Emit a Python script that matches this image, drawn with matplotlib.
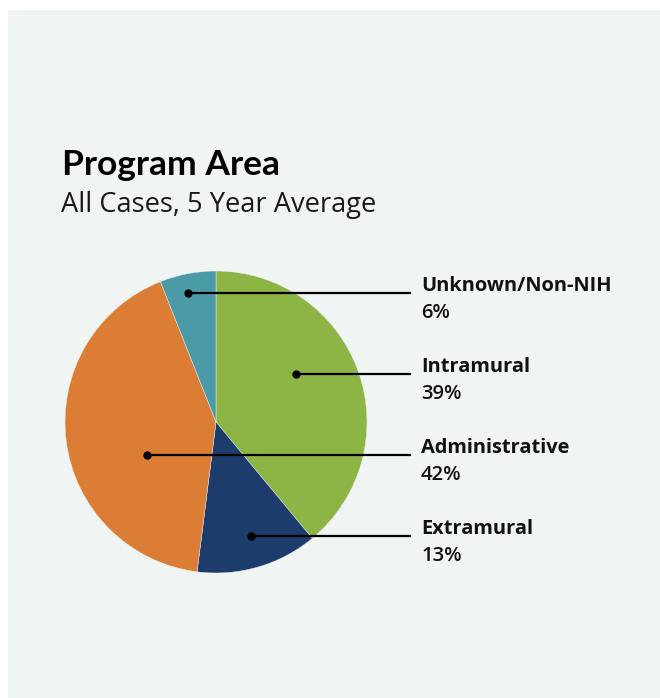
import matplotlib
matplotlib.use("Agg")
from matplotlib import pyplot as plt
from matplotlib.patches import Rectangle

# data
categories = ["Intramural", "Extramural", "Administrative", "Unknown/Non-NIH"]
shares = [39, 13, 42, 6]
colors = ["#8cb545", "#1c3c6c", "#db7d35", "#4b9aa8"]

# label order on the right (top to bottom) and where the pointer dots sit
label_order = ["Unknown/Non-NIH", "Intramural", "Administrative", "Extramural"]
label_y = [293, 374, 455, 536]
dot_x = [188, 296, 147, 251]

W, H = 660, 698
bg = "#f0f4f3"

fig = plt.figure(figsize=(W / 100, H / 100), dpi=100)
fig.patch.set_facecolor("white")
ax = fig.add_axes([0, 0, 1, 1])

# pie (y axis gets inverted below, so flip direction)
ax.pie(shares, colors=colors, startangle=-90, counterclock=True, center=(216, 422),
       radius=151, frame=True, wedgeprops=dict(edgecolor=bg, linewidth=0.3))
ax.set_xlim(0, W)
ax.set_ylim(H, 0)
ax.set_aspect("equal")
ax.axis("off")

# panel
ax.add_patch(Rectangle((8, 10), W - 8, H - 10, facecolor=bg, edgecolor="none", zorder=0))

ax.text(62, 175, "Program Area", fontsize=25.5, fontweight="bold", family="Lato",
        color="black", va="baseline")
ax.text(61, 212, "All Cases, 5 Year Average", fontsize=19.6, fontweight="normal", family="Open Sans",
        color="#1a1a1a", va="baseline")

for name, y, dx in zip(label_order, label_y, dot_x):
    pct = shares[categories.index(name)]
    ax.plot([dx, 410], [y, y], color="black", lw=1.6, zorder=5)
    ax.plot(dx, y, "o", color="black", ms=5, zorder=6)
    ax.text(421, y - 2, name, fontsize=14.4, fontweight="bold", family="Open Sans",
            color="#111111", va="baseline")
    ax.text(421, y + 25, f"{pct}%", fontsize=14.6, family="Open Sans", fontweight="semibold",
            color="#111111", va="baseline")

plt.savefig("out.png", dpi=100, facecolor=fig.get_facecolor())
plt.close()
